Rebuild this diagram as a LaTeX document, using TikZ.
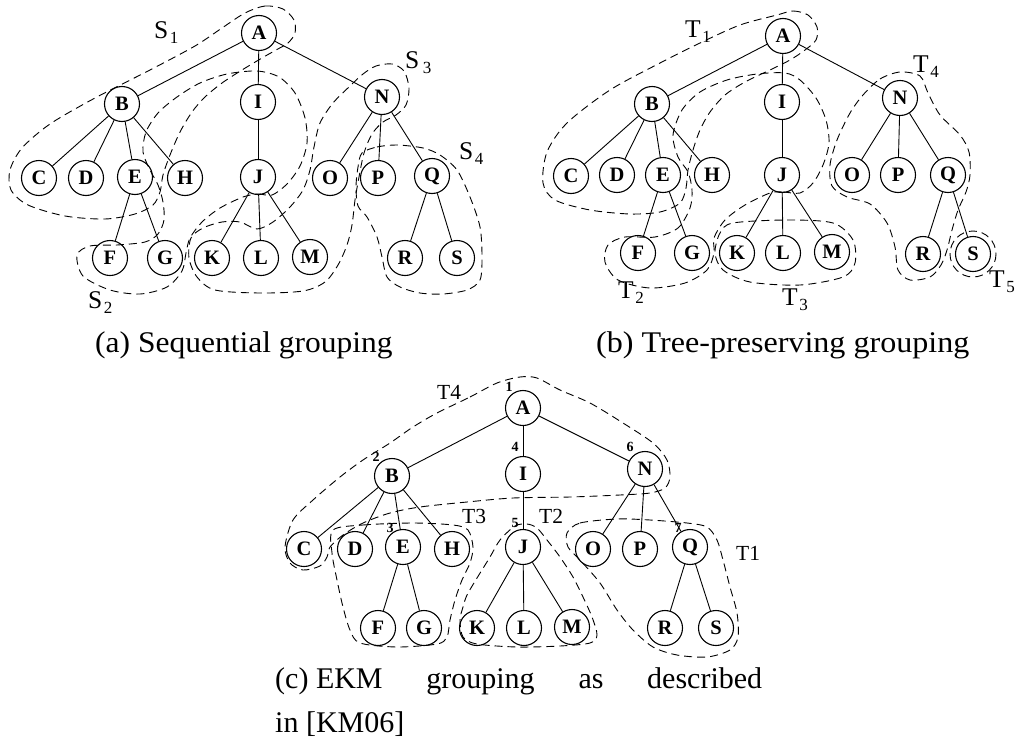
\documentclass[tikz,border=0pt]{standalone}
\usepackage{fontspec}
\setmainfont{Liberation Serif}
\newcommand\sublbl[2]{#1\hspace{1.5pt}\raisebox{-5pt}{\fontsize{17}{17}\selectfont #2}}
\tikzset{
  vtx/.style={circle, draw, line width=1.1pt, minimum size=35pt, inner sep=0pt,
              font=\fontsize{20.5}{20.5}\selectfont\bfseries},
  edge/.style={line width=0.9pt},
  grp/.style={dash pattern=on 8pt off 5pt, line width=0.9pt},
  num/.style={inner sep=0pt, font=\fontsize{14}{14}\selectfont\bfseries},
  glbl/.style={anchor=base west, inner sep=0pt, font=\fontsize{25.5}{25.5}\selectfont},
  clbl/.style={anchor=base west, inner sep=0pt, font=\fontsize{21.5}{21.5}\selectfont},
  captext/.style={anchor=base west, inner sep=0pt, font=\fontsize{30}{36}\selectfont},
}
\begin{document}
\begin{tikzpicture}[x=1pt, y=-1pt]
\useasboundingbox (0,0) rectangle (1016,744);

% ---------- (a) sequential grouping ----------
\foreach \n/\x/\y in {A/259/33, B/122/104, I/258/102, N/382/97,
    C/39/178, D/86/178, E/135/177, H/185/178, J/258/177, O/330/178, P/378/178, Q/432/176,
    F/110/258, G/165/258, K/212/258, L/261/258, M/310/257, R/405/258, S/457/258}
  \node[vtx] (a\n) at (\x,\y) {\n};

% ---------- (b) tree-preserving grouping ----------
\foreach \n/\x/\y in {A/783/36, B/652/104, I/782/102, N/900/98,
    C/571/176, D/617/175, E/663/175, H/712/175, J/782/175, O/852/175, P/898/175, Q/948/175,
    F/638/253, G/692/253, K/737/253, L/783/253, M/832/252, R/923/254, S/973/254}
  \node[vtx] (b\n) at (\x,\y) {\n};

% ---------- (c) EKM grouping ----------
\foreach \n/\x/\y in {A/523/408, B/392/476, I/523/474, N/645/469,
    C/304/549, D/355/549, E/403/547, H/452/549, J/523/547, O/593/549, P/640/549, Q/690/547,
    F/378/628, G/424/628, K/477/628, L/524/628, M/572/627, R/665/628, S/716/628}
  \node[vtx] (c\n) at (\x,\y) {\n};

% tree edges, the same in all three trees
\foreach \p in {a,b,c}
  \foreach \u/\v in {A/B, A/I, A/N, B/C, B/D, B/E, B/H, E/F, E/G, I/J,
                     J/K, J/L, J/M, N/O, N/P, N/Q, Q/R, Q/S}
    \draw[edge] (\p\u) -- (\p\v);

% group outlines of (a)
\draw[grp] plot[smooth cycle] coordinates {(245,13) (265,6) (283,9) (294,20) (295,33)
  (288,43) (276,50) (262,58) (242,70) (222,83) (205,97) (192,112) (180,132) (170,155)
  (163,175) (160,192) (153,205) (135,214) (105,219) (65,216) (28,205) (11,190) (10,170)
  (22,148) (50,124) (95,98) (150,70) (195,46) (222,28)};
\draw[grp] plot[smooth cycle] coordinates {(243,197) (258,194) (272,195) (287,184)
  (300,166) (307,143) (305,118) (295,93) (279,77) (257,71) (227,74) (200,83) (177,97)
  (158,113) (146,132) (143,152) (150,170) (158,185) (163,202) (164,220) (158,234)
  (145,242) (117,245) (90,246) (77,255) (83,276) (110,290) (140,294) (167,287) (182,271)
  (186,253) (190,238) (202,222) (220,208)};
\draw[grp] plot[smooth cycle] coordinates {(240,222) (257,229) (273,222) (290,207)
  (303,190) (310,170) (314,147) (320,123) (333,103) (350,86) (363,74) (376,66) (392,64)
  (404,71) (409,88) (406,105) (396,115) (383,122) (372,134) (364,153) (359,177) (355,200)
  (352,225) (347,245) (338,265) (325,282) (303,291) (260,293) (215,290) (197,277)
  (189,258) (191,238) (203,228) (222,222)};
\draw[grp] plot[smooth cycle] coordinates {(362,153) (377,147) (397,145) (423,148)
  (440,155) (457,170) (470,197) (480,227) (482,257) (480,280) (467,290) (443,294)
  (420,293) (400,287) (387,277) (382,257) (377,237) (367,217) (358,206) (356,187) (358,167)};

\node[glbl] (s1) at (154,38) {\sublbl{S}{1}};
\node[glbl] (s2) at (88,308) {\sublbl{S}{2}};
\node[glbl] (s3) at (405,68) {\sublbl{S}{\hspace{2pt}3}};
\node[glbl] (s4) at (459,159) {\sublbl{S}{4}};

% group outlines of (b)
\draw[grp] plot[smooth cycle] coordinates {(777,15) (793,11) (808,15) (817,27) (816,40)
  (805,50) (790,60) (770,70) (745,82) (725,95) (710,112) (700,130) (693,150) (688,170)
  (686,188) (680,203) (660,212) (630,214) (590,210) (555,200) (543,183) (547,152)
  (567,123) (610,90) (660,63) (700,43) (740,25)};
\draw[grp] plot[smooth cycle] coordinates {(770,193) (783,192) (800,193) (813,183)
  (823,165) (829,143) (826,120) (816,98) (800,80) (785,73) (757,74) (727,80) (700,92)
  (682,110) (673,135) (678,157) (688,172) (692,190) (690,208) (678,228) (655,237)
  (625,237) (608,245) (605,262) (618,280) (650,288) (685,283) (707,270) (714,253)
  (714,238) (725,220) (745,205)};
\draw[grp] plot[smooth cycle] coordinates {(733,223) (787,220) (833,223) (853,240)
  (855,263) (843,277) (800,285) (750,282) (723,270) (715,253) (720,233)};
\draw[grp] plot[smooth cycle] coordinates {(863,95) (880,79) (900,72) (920,76) (928,93)
  (940,115) (960,135) (969,152) (970,175) (966,192) (958,210) (952,230) (947,250)
  (941,265) (930,277) (910,280) (898,270) (895,247) (887,223) (870,204) (847,197)
  (832,186) (830,165) (837,140) (850,113)};
\draw[grp] (bS.center) circle[radius=23];

\node[glbl] (t1) at (685,37) {\sublbl{T}{1}};
\node[glbl] (t2) at (618,298) {\sublbl{T}{2}};
\node[glbl] (t3) at (782,305) {\sublbl{T}{3}};
\node[glbl] (t4) at (913,72) {\sublbl{T}{4}};
\node[glbl] (t5) at (989,287) {\sublbl{T}{5}};

% group outlines of (c)
\draw[grp] plot[smooth cycle] coordinates {(437,413) (470,397) (497,383) (520,377)
  (537,378) (560,390) (590,403) (623,423) (653,443) (667,460) (670,477) (665,488)
  (650,493) (620,495) (570,497) (513,498) (467,502) (420,507) (390,513) (363,523)
  (343,535) (330,547) (327,557) (320,566) (303,570) (290,563) (285,547) (293,520)
  (313,500) (340,477) (363,460) (390,443) (413,427)};
\draw[grp] plot[smooth cycle] coordinates {(333,530) (363,525) (413,523) (453,525)
  (468,530) (473,547) (470,563) (462,580) (455,600) (450,620) (447,637) (437,644)
  (397,647) (360,643) (350,630) (343,607) (337,580) (332,553)};
\draw[grp] plot[smooth cycle] coordinates {(515,526) (527,524) (537,528) (547,540)
  (560,557) (573,577) (583,597) (592,617) (597,635) (590,643) (560,646) (517,647)
  (477,644) (463,637) (460,620) (463,607) (467,595) (477,578) (490,557) (500,540)};
\draw[grp] plot[smooth cycle] coordinates {(567,533) (580,523) (617,519) (650,520)
  (687,523) (707,527) (717,540) (723,560) (730,587) (737,613) (738,637) (730,650)
  (707,657) (677,655) (653,647) (633,630) (617,610) (600,583) (580,560) (568,547)};

\node[clbl] (u4) at (437,399) {T4};
\node[clbl] (u3) at (462,523) {T3};
\node[clbl] (u2) at (539,523) {T2};
\node[clbl] (u1) at (736,560) {T1};

% visiting order of the EKM traversal
\node[num] (n1) at (509,387) {1};
\node[num] (n2) at (376,457) {2};
\node[num] (n3) at (390,528) {3};
\node[num] (n4) at (515,447) {4};
\node[num] (n5) at (515,523) {5};
\node[num] (n6) at (630,447) {6};
\node[num] (n7) at (678,528) {7};

% captions
\node[captext] (capa) at (95,352) {\scalebox{1.05}[1]{(a) Sequential grouping}};
\node[captext] (capb) at (596,352) {\scalebox{1.07}[1]{(b) Tree-preserving grouping}};
\node[captext] (capc) at (275,688) {\makebox[487pt][s]{\mbox{(c) EKM} grouping as described}};
\node[captext] (capd) at (275,732) {in [KM06]};
\end{tikzpicture}
\end{document}
